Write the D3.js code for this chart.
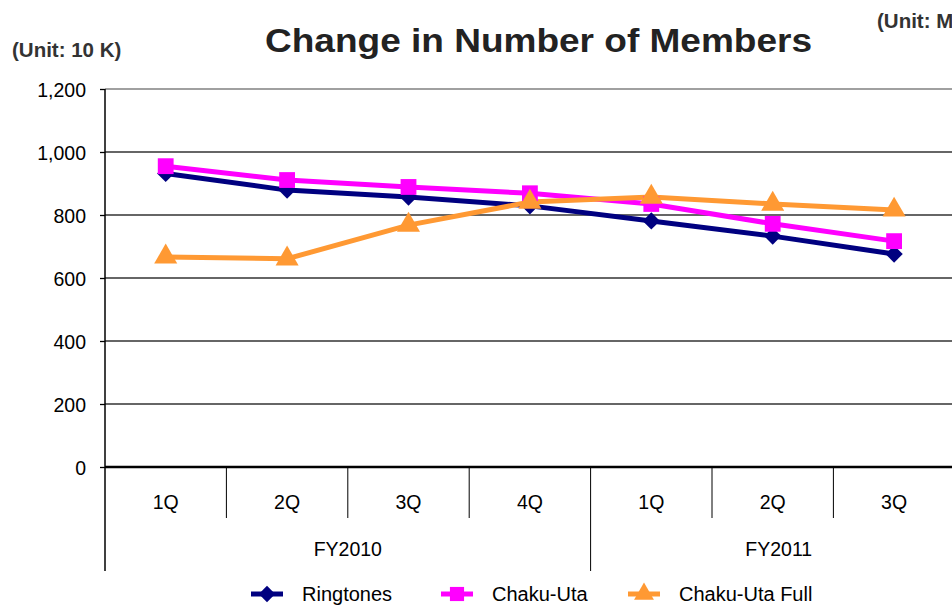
<!DOCTYPE html>
<html>
<head>
<meta charset="utf-8">
<script src="https://cdn.jsdelivr.net/npm/d3@7"></script>
<style>
  body { margin: 0; background: #fff; }
  svg { font-family: "Liberation Sans", Arial, sans-serif; display: block; }
</style>
</head>
<body>
<svg width="952" height="605"></svg>
<script>
const quarters = ["1Q", "2Q", "3Q", "4Q", "1Q", "2Q", "3Q"];
const years = [{ name: "FY2010", from: 0, to: 4 }, { name: "FY2011", from: 4, to: 7.1 }];
const ringtones = [932, 879, 857, 829, 781, 733, 676];
const chakuUta = [955, 911, 889, 869, 835, 772, 717];
const chakuUtaFull = [667, 661, 768, 841, 857, 835, 816];
const yTicks = [0, 200, 400, 600, 800, 1000, 1200];

const series = [
  { name: "Ringtones", values: ringtones, color: "#000080", shape: "diamond" },
  { name: "Chaku-Uta", values: chakuUta, color: "#ff00ff", shape: "square" },
  { name: "Chaku-Uta Full", values: chakuUtaFull, color: "#ff9933", shape: "triangle" }
];

const svg = d3.select("svg");
const plotLeft = 105, plotTop = 89, plotBottom = 467;
const band = 121.4;

const x = d3.scaleBand()
  .domain(d3.range(quarters.length))
  .range([plotLeft, plotLeft + band * quarters.length])
  .padding(0);
const xPos = d3.scaleLinear().domain([0, quarters.length]).range([plotLeft, plotLeft + band * quarters.length]);
const y = d3.scaleLinear().domain([0, 1200]).range([plotBottom, plotTop]);

// gridlines
svg.append("g")
  .selectAll("line")
  .data(yTicks.filter(d => d > 0))
  .join("line")
  .attr("x1", plotLeft).attr("x2", 960)
  .attr("y1", d => y(d)).attr("y2", d => y(d))
  .attr("stroke", d => d === 1200 ? "#808080" : "#333")
  .attr("stroke-width", 1.3);

// y axis
const yAxis = d3.axisLeft(y).tickValues(yTicks).tickSize(5).tickFormat(d3.format(","));
const gy = svg.append("g").attr("transform", `translate(${plotLeft},0)`).call(yAxis);
gy.select(".domain").remove();
gy.selectAll(".tick line").attr("stroke", "#000").attr("stroke-width", 1.3);
gy.selectAll(".tick text").attr("x", -19).attr("dy", "0.36em")
  .style("font-size", "19.5px").attr("fill", "#000");

svg.append("line")
  .attr("x1", plotLeft).attr("x2", plotLeft).attr("y1", plotTop).attr("y2", 571)
  .attr("stroke", "#000").attr("stroke-width", 1.5);
svg.append("line")
  .attr("x1", plotLeft).attr("x2", 960).attr("y1", plotBottom).attr("y2", plotBottom)
  .attr("stroke", "#000").attr("stroke-width", 2.5);

// category dividers
svg.append("g")
  .selectAll("line")
  .data(d3.range(1, quarters.length + 1))
  .join("line")
  .attr("x1", d => xPos(d)).attr("x2", d => xPos(d))
  .attr("y1", plotBottom).attr("y2", d => d === 4 ? 571 : 518)
  .attr("stroke", "#000").attr("stroke-width", 1);

svg.append("g")
  .selectAll("text")
  .data(quarters)
  .join("text")
  .attr("x", (d, i) => x(i) + x.bandwidth() / 2)
  .attr("y", 509)
  .attr("text-anchor", "middle")
  .style("font-size", "19.5px")
  .text(d => d);

svg.append("g")
  .selectAll("text")
  .data(years)
  .join("text")
  .attr("x", d => (xPos(d.from) + xPos(d.to)) / 2)
  .attr("y", 556)
  .attr("text-anchor", "middle")
  .style("font-size", "19.5px")
  .text(d => d.name);

// lines
const line = d3.line()
  .x((d, i) => x(i) + x.bandwidth() / 2)
  .y(d => y(d));

const symbolTypes = { diamond: d3.symbolDiamond2, square: d3.symbolSquare, triangle: d3.symbolTriangle };
const markerSize = { diamond: 190, square: 250, triangle: 230 };
const legendSize = { diamond: 170, square: 200, triangle: 170 };

series.forEach(s => {
  svg.append("path")
    .datum(s.values)
    .attr("d", line)
    .attr("fill", "none")
    .attr("stroke", s.color)
    .attr("stroke-width", 5);
});
series.forEach(s => {
  svg.append("g")
    .selectAll("path")
    .data(s.values)
    .join("path")
    .attr("transform", (d, i) => `translate(${x(i) + x.bandwidth() / 2},${y(d)})`)
    .attr("d", d3.symbol().type(symbolTypes[s.shape]).size(markerSize[s.shape]))
    .attr("fill", s.color);
});

// titles
svg.append("text")
  .attr("x", 265).attr("y", 52)
  .attr("textLength", 547).attr("lengthAdjust", "spacingAndGlyphs")
  .style("font-size", "34px").style("font-weight", "bold").attr("fill", "#222")
  .text("Change in Number of Members");
svg.append("text")
  .attr("x", 12).attr("y", 57)
  .style("font-size", "20.5px").style("font-weight", "bold").attr("fill", "#333")
  .text("(Unit: 10 K)");
svg.append("text")
  .attr("x", 877).attr("y", 28)
  .style("font-size", "20.5px").style("font-weight", "bold").attr("fill", "#333")
  .text("(Unit: M");

// legend
const legendX = [251, 441, 628];
const legend = svg.append("g")
  .selectAll("g")
  .data(series)
  .join("g")
  .attr("transform", (d, i) => `translate(${legendX[i]},594)`);
legend.append("line")
  .attr("x1", 0).attr("x2", 32)
  .attr("stroke", d => d.color).attr("stroke-width", 5);
legend.append("path")
  .attr("transform", "translate(16,0)")
  .attr("d", d => d3.symbol().type(symbolTypes[d.shape]).size(legendSize[d.shape])())
  .attr("fill", d => d.color);
legend.append("text")
  .attr("x", 51).attr("y", 7)
  .style("font-size", "20px")
  .text(d => d.name);
</script>
</body>
</html>
